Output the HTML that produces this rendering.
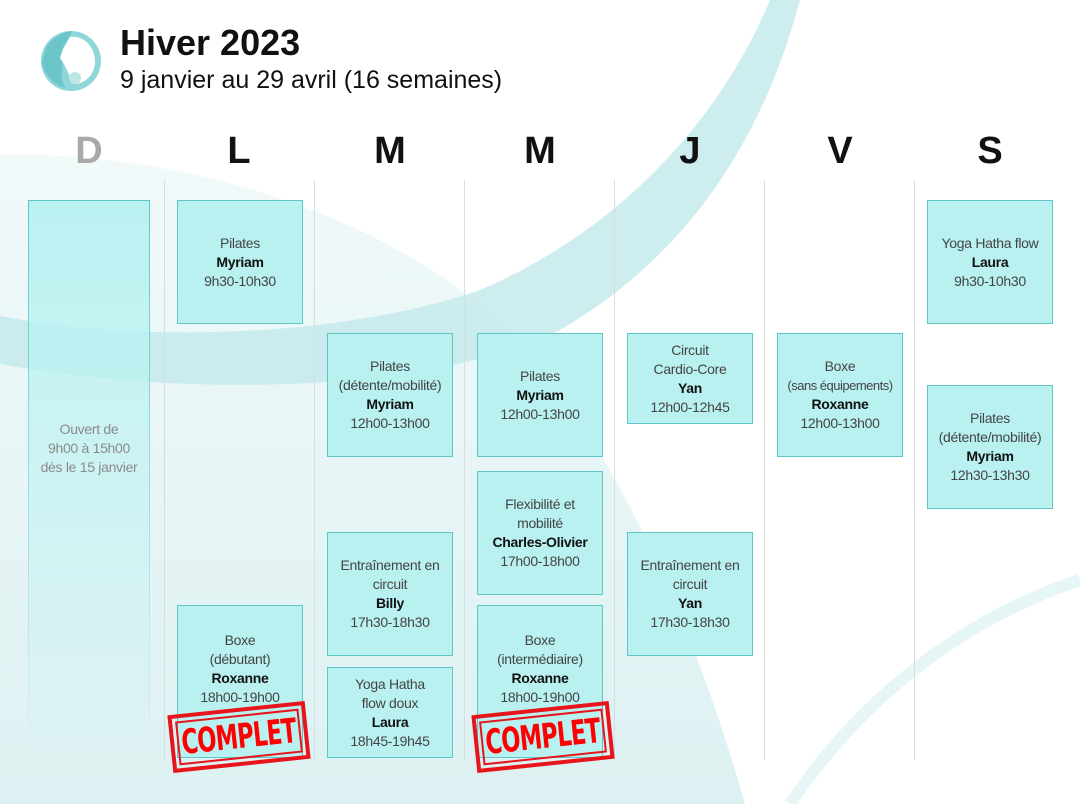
<!DOCTYPE html>
<html><head><meta charset="utf-8">
<style>
html,body{margin:0;padding:0}
body{width:1080px;height:804px;position:relative;overflow:hidden;background:#fff;font-family:"Liberation Sans",sans-serif}
.bg{position:absolute;left:0;top:0}
.day{position:absolute;top:130px;width:60px;margin-left:-30px;text-align:center;font-weight:bold;font-size:38px;color:#111}
.sep{position:absolute;top:180px;height:580px;width:1px;background:#d6dede}
.box{position:absolute;width:126px;background:#b9f1f1;border:1.5px solid #5ec6c9;box-sizing:border-box;display:flex;flex-direction:column;justify-content:center;align-items:center;text-align:center;font-size:14px;line-height:19px;color:#444;letter-spacing:-0.3px}
.box b{color:#111}
.stamp{position:absolute;width:138px;height:58px;border:4px solid #e8141c;box-sizing:border-box;transform:rotate(-6deg);display:flex;align-items:center;justify-content:center}
.stamp span{display:flex;align-items:center;justify-content:center;width:124px;height:44px;border:2px solid #e8141c;box-sizing:border-box;overflow:hidden}
.stamp i{font-style:normal;display:block;color:#f00;font-family:"DejaVu Sans Condensed","DejaVu Sans",sans-serif;font-stretch:condensed;font-weight:bold;font-size:34px;line-height:40px;transform:scaleX(0.74);letter-spacing:-1px;white-space:nowrap}
</style></head><body>
<svg class="bg" width="1080" height="804">
<defs><linearGradient id="g1" x1="0" y1="0" x2="0" y2="1"><stop offset="0" stop-color="#f1f9f9"/><stop offset="1" stop-color="#ddf1f2"/></linearGradient></defs>
<path d="M0,155 C200,150 450,230 560,390 C650,520 710,680 745,804 L0,804 Z" fill="url(#g1)"/>
<path d="M0,316 C150,345 350,335 480,290 C620,230 720,120 770,0 L800,0 C760,150 680,260 560,330 C440,390 200,400 0,364 Z" fill="#c6eaec" opacity="0.85"/>
<path d="M790,804 C860,700 960,620 1080,580" stroke="#e6f5f6" stroke-width="12" fill="none"/>
</svg>
<svg style="position:absolute;left:38px;top:28px" width="66" height="66">
<circle cx="33" cy="33" r="30" fill="#8fd6d8"/>
<path d="M8,20 C14,10 24,4 34,3 C30,14 22,18 24,30 C26,42 20,50 28,60 C16,58 6,46 4,34 Z" fill="#6cc6c9"/>
<path d="M32,9 C46,7 58,20 57,35 C56,48 46,56 36,56 C30,46 28,38 22,30 C24,22 28,16 32,9 Z" fill="#fff"/>
<circle cx="37" cy="50" r="6" fill="#bfe6e6"/>
</svg>
<div style="position:absolute;left:120px;top:22px;font-size:36px;font-weight:bold;color:#111">Hiver 2023</div>
<div style="position:absolute;left:120px;top:66px;font-size:25px;color:#111">9 janvier au 29 avril (16 semaines)</div>

<div class="day" style="left:89px;color:#a9a9a9">D</div>
<div class="day" style="left:239px">L</div>
<div class="day" style="left:390px">M</div>
<div class="day" style="left:540px">M</div>
<div class="day" style="left:690px">J</div>
<div class="day" style="left:840px">V</div>
<div class="day" style="left:990px">S</div>

<div class="sep" style="left:164px"></div>
<div class="sep" style="left:314px"></div>
<div class="sep" style="left:464px"></div>
<div class="sep" style="left:614px"></div>
<div class="sep" style="left:764px"></div>
<div class="sep" style="left:914px"></div>

<div class="box" style="left:28px;top:200px;height:560px;width:122px;-webkit-mask-image:linear-gradient(#000,rgba(0,0,0,0.45) 60%,rgba(0,0,0,0));mask-image:linear-gradient(#000,rgba(0,0,0,0.45) 60%,rgba(0,0,0,0))"></div>
<div style="position:absolute;left:28px;top:420px;width:122px;text-align:center;font-size:14px;line-height:19px;color:#8a8a8a;letter-spacing:-0.3px">Ouvert de<br>9h00 à 15h00<br>dès le 15 janvier</div>

<div class="box" style="left:177px;top:200px;height:124px">Pilates<b>Myriam</b>9h30-10h30</div>
<div class="box" style="left:177px;top:605px;height:153px;justify-content:flex-start;padding-top:25px">Boxe<span>(débutant)</span><b>Roxanne</b>18h00-19h00</div>

<div class="box" style="left:327px;top:333px;height:124px">Pilates<span>(détente/mobilité)</span><b>Myriam</b>12h00-13h00</div>
<div class="box" style="left:327px;top:532px;height:124px">Entraînement en<span>circuit</span><b>Billy</b>17h30-18h30</div>
<div class="box" style="left:327px;top:667px;height:91px">Yoga Hatha<span>flow doux</span><b>Laura</b>18h45-19h45</div>

<div class="box" style="left:477px;top:333px;height:124px">Pilates<b>Myriam</b>12h00-13h00</div>
<div class="box" style="left:477px;top:471px;height:124px">Flexibilité et<span>mobilité</span><b>Charles-Olivier</b>17h00-18h00</div>
<div class="box" style="left:477px;top:605px;height:153px;justify-content:flex-start;padding-top:25px">Boxe<span>(intermédiaire)</span><b>Roxanne</b>18h00-19h00</div>

<div class="box" style="left:627px;top:333px;height:91px">Circuit<span>Cardio-Core</span><b>Yan</b>12h00-12h45</div>
<div class="box" style="left:627px;top:532px;height:124px">Entraînement en<span>circuit</span><b>Yan</b>17h30-18h30</div>

<div class="box" style="left:777px;top:333px;height:124px">Boxe<span style="font-size:13px;letter-spacing:-0.5px">(sans équipements)</span><b>Roxanne</b>12h00-13h00</div>

<div class="box" style="left:927px;top:200px;height:124px">Yoga Hatha flow<b>Laura</b>9h30-10h30</div>
<div class="box" style="left:927px;top:385px;height:124px">Pilates<span>(détente/mobilité)</span><b>Myriam</b>12h30-13h30</div>

<div class="stamp" style="left:170px;top:708px"><span><i>COMPLET</i></span></div>
<div class="stamp" style="left:474px;top:708px"><span><i>COMPLET</i></span></div>
</body></html>
